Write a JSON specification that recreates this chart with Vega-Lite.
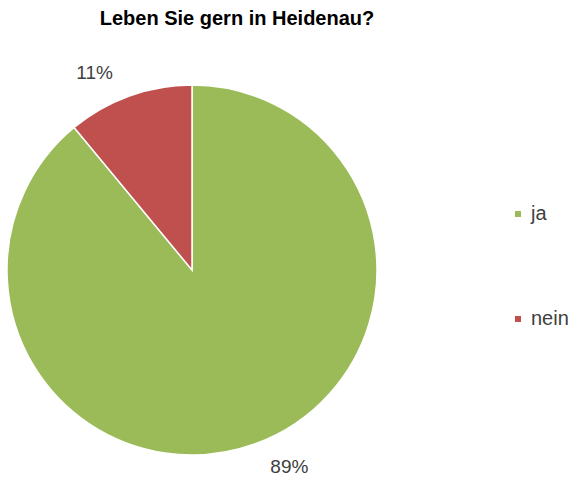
{
  "$schema": "https://vega.github.io/schema/vega-lite/v6.json",
  "autosize": "none",
  "width": 384,
  "height": 420,
  "padding": {"left": 0, "top": 60, "right": 184, "bottom": 3},
  "background": "white",
  "title": {
    "text": "Leben Sie gern in Heidenau?",
    "font": "Liberation Sans",
    "fontSize": 20,
    "fontWeight": "bold",
    "color": "#000000",
    "anchor": "middle",
    "dx": 45,
    "baseline": "alphabetic",
    "offset": 15
  },
  "data": {
    "values": [
      {"antwort": "ja", "anteil": 89, "label": "89%"},
      {"antwort": "nein", "anteil": 11, "label": "11%"}
    ]
  },
  "encoding": {
    "theta": {"field": "anteil", "type": "quantitative", "stack": true},
    "order": {"field": "antwort", "sort": "ascending"}
  },
  "layer": [
    {
      "mark": {"type": "arc", "outerRadius": 185, "stroke": "white", "strokeWidth": 1.5},
      "encoding": {
        "color": {
          "field": "antwort",
          "type": "nominal",
          "scale": {"domain": ["ja", "nein"], "range": ["#9BBB59", "#C0504D"]},
          "legend": {
            "title": null,
            "orient": "none",
            "legendX": 508,
            "legendY": 144,
            "symbolType": "square",
            "symbolSize": 36,
            "symbolStrokeWidth": 0,
            "labelFont": "Liberation Sans",
            "labelFontSize": 20,
            "labelColor": "#404040",
            "labelOffset": 3,
            "rowPadding": 85
          }
        }
      }
    },
    {
      "mark": {"type": "text", "radius": 220, "thetaOffset": -0.113, "font": "Liberation Sans", "fontSize": 19, "color": "#404040"},
      "encoding": {
        "text": {"field": "label", "type": "nominal"},
        "detail": {"field": "antwort", "type": "nominal"}
      }
    }
  ],
  "config": {"view": {"stroke": null}}
}
